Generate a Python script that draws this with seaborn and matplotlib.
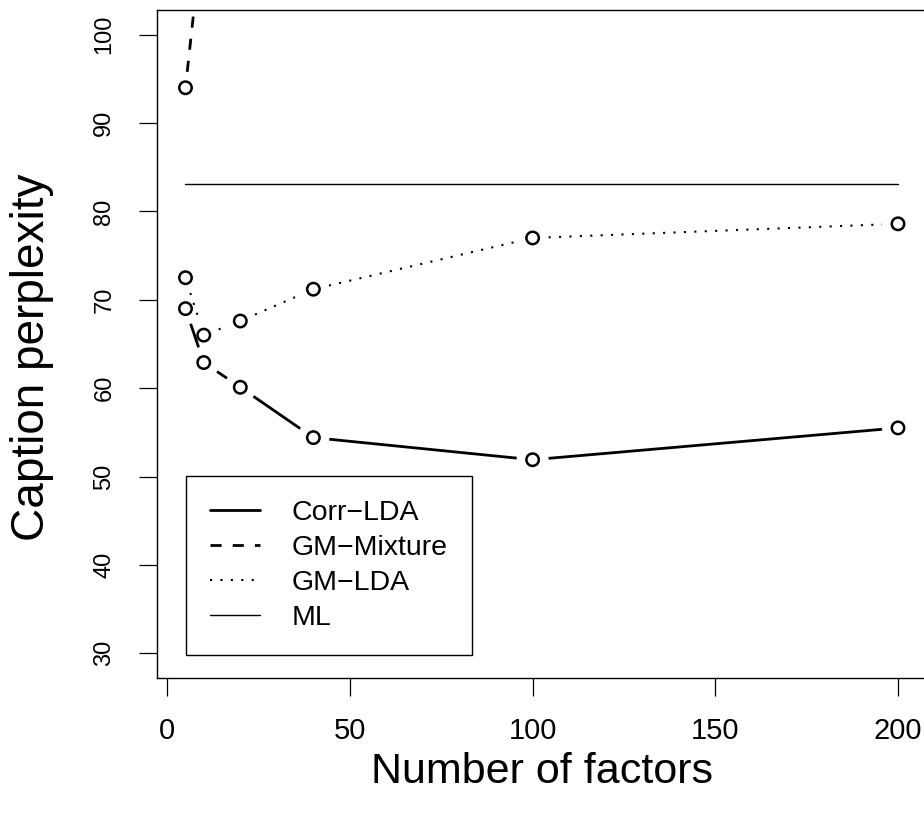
import numpy as np
import pandas as pd
import matplotlib
matplotlib.use("Agg")
import matplotlib.pyplot as plt
from matplotlib.lines import Line2D
import seaborn as sns

# values
factors = [5, 10, 20, 40, 100, 200]
corr_lda = [69.0, 62.9, 60.1, 54.4, 51.9, 55.5]
gm_mixture = [94.0, 113.0, 130.0, 150.0, 175.0, 195.0]  # only the first point is on screen
gm_lda = [72.5, 66.0, 67.6, 71.2, 77.0, 78.6]
ml_level = 83.1
ml_span = [5, 200]

series_names = ["Corr\u2212LDA", "GM\u2212Mixture", "GM\u2212LDA"]
series_values = [corr_lda, gm_mixture, gm_lda]
legend_labels = ["Corr\u2212LDA", "GM\u2212Mixture", "GM\u2212LDA", "ML"]

x_ticks = [0, 50, 100, 150, 200]
y_ticks = [30, 40, 50, 60, 70, 80, 90, 100]

df = pd.DataFrame({
    "factors": factors * 3,
    "perplexity": corr_lda + gm_mixture + gm_lda,
    "model": [n for n in series_names for _ in factors],
})
ml_df = pd.DataFrame({"factors": ml_span, "perplexity": [ml_level] * 2})

sns.set_style("white")
plt.rcParams["font.family"] = ["Liberation Sans", "DejaVu Sans"]

fig = plt.figure(figsize=(9.24, 8.13), dpi=100)
ax = fig.add_axes([0.1699, 0.1661, 0.8328, 0.8216])
ax.set_xlim(-2.8, 207.8)
ax.set_ylim(27.2, 102.8)

styles = {
    "Corr\u2212LDA": dict(ls="-", lw=2.0),
    "GM\u2212Mixture": dict(ls=(0, (4, 4)), lw=2.0),
    "GM\u2212LDA": dict(ls=(0, (1, 4)), lw=1.5),
}


def gapped(ax, xs, ys, gap=16):
    # R type="b": segments stop short of each point
    pts = ax.transData.transform(np.column_stack([xs, ys]))
    inv = ax.transData.inverted()
    out = []
    for p0, p1 in zip(pts[:-1], pts[1:]):
        d = p1 - p0
        L = np.hypot(*d)
        if L <= 2 * gap:
            continue
        u = d / L
        a = inv.transform(p0 + u * gap)
        b = inv.transform(p1 - u * gap)
        out.append(([a[0], b[0]], [a[1], b[1]]))
    return out


for name, vals in zip(series_names, series_values):
    for sx, sy in gapped(ax, factors, vals):
        ax.plot(sx, sy, color="black", solid_capstyle="butt",
                dash_capstyle="butt", **styles[name])

sns.lineplot(data=ml_df, x="factors", y="perplexity", color="black",
             linewidth=1.0, ax=ax)

sns.scatterplot(data=df, x="factors", y="perplexity", marker="o", s=80,
                facecolors="none", edgecolor="black", linewidth=1.8,
                legend=False, ax=ax, zorder=3)

ax.set_xticks(x_ticks)
ax.set_yticks(y_ticks)
ax.set_xticklabels([str(t) for t in x_ticks])
ax.set_yticklabels([str(t) for t in y_ticks])
ax.tick_params(axis="both", direction="out", length=13, width=0.9,
               color="black", labelcolor="black", bottom=True, left=True)
ax.tick_params(axis="x", pad=15, labelsize=21)
ax.tick_params(axis="y", pad=17, labelsize=17)
for lab in ax.get_yticklabels():
    lab.set_rotation(90)
    lab.set_va("center")
    lab.set_ha("right")

for sp in ax.spines.values():
    sp.set_visible(True)
    sp.set_color("black")
    sp.set_linewidth(1.0)

ax.set_xlabel("Number of factors", fontsize=31, color="black")
ax.set_ylabel("Caption perplexity", fontsize=33, color="black")
ax.xaxis.label.set_va("center")
ax.yaxis.label.set_va("center")
ax.xaxis.set_label_coords(0.50, -0.141)
ax.yaxis.set_label_coords(-0.1624, 0.48)

handles = [
    Line2D([], [], color="black", **styles["Corr\u2212LDA"]),
    Line2D([], [], color="black", **styles["GM\u2212Mixture"]),
    Line2D([], [], color="black", **styles["GM\u2212LDA"]),
    Line2D([], [], color="black", lw=1.0),
]
leg = ax.legend(handles, legend_labels, loc="upper left",
                bbox_to_anchor=(0.0377, 0.302), fontsize=20.5, frameon=True,
                fancybox=False, edgecolor="black", framealpha=1,
                handlelength=1.75, handletextpad=1.1, labelspacing=0.31,
                borderpad=0.85, borderaxespad=0)
leg.get_frame().set_linewidth(1.0)
for t in leg.get_texts():
    t.set_color("black")

fig.savefig("out.png", dpi=100)
